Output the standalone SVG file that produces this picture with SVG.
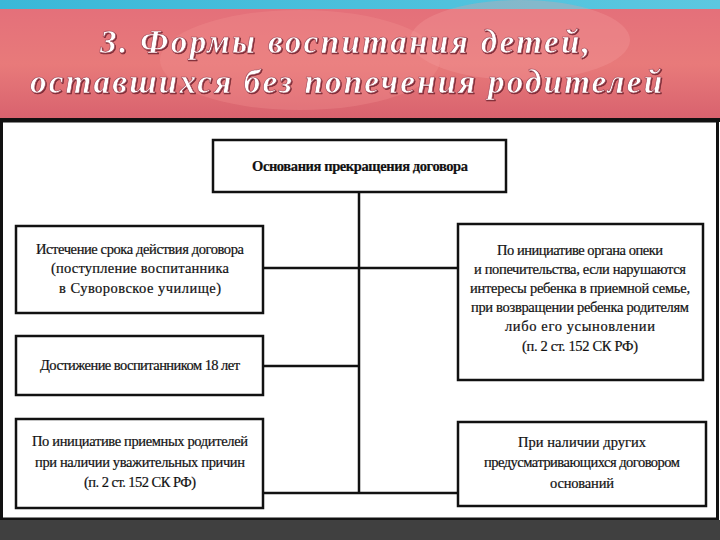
<svg xmlns="http://www.w3.org/2000/svg" width="720" height="540" viewBox="0 0 720 540">
<defs>
<linearGradient id="bg" x1="0" y1="0" x2="0" y2="1">
<stop offset="0" stop-color="#e4707a"/><stop offset="0.5" stop-color="#e87a7a"/><stop offset="1" stop-color="#d8626e"/>
</linearGradient>
<linearGradient id="top" x1="0" y1="0" x2="1" y2="0">
<stop offset="0" stop-color="#3ab8d8"/><stop offset="1" stop-color="#5cc8e0"/>
</linearGradient>
<filter id="sh"><feDropShadow dx="1" dy="1" stdDeviation="0.6" flood-color="#7a2a35"/></filter>
</defs>
<style>
.t{font-family:"Liberation Serif",serif;font-style:italic;font-weight:bold;font-size:33px;fill:#fff;stroke:#a04050;stroke-width:0.6px}
.b{fill:#fff;stroke:#111;stroke-width:2.5}
.l{font-family:"Liberation Serif",serif;font-size:14.5px;fill:#111;text-anchor:middle;stroke:#111;stroke-width:0.2px}
.c{stroke:#111;stroke-width:2.5;fill:none}
</style>
<rect width="720" height="540" fill="#fff"/>
<rect width="720" height="10" fill="url(#top)"/>
<rect y="9" width="720" height="110" fill="url(#bg)"/>
<ellipse cx="300" cy="60" rx="140" ry="50" fill="#f09090" opacity="0.35"/>
<ellipse cx="520" cy="40" rx="110" ry="40" fill="#f4a0a0" opacity="0.3"/>
<g filter="url(#sh)">
<text class="t" x="100" y="53" textLength="490" lengthAdjust="spacing">3. Формы воспитания детей,</text>
<text class="t" x="30" y="93" textLength="632" lengthAdjust="spacing">оставшихся без попечения родителей</text>
</g>
<rect x="0" y="118" width="720" height="4" fill="#111"/>
<rect x="1.5" y="121" width="716" height="398" fill="#fff" stroke="#111" stroke-width="3"/>
<rect x="0" y="520" width="720" height="20" fill="#404040"/>
<g id="connectors">
<path class="c" d="M359 192V493M263 268H458M263 366H359M263 493H458"/>
</g>
<g id="n0"><rect class="b" x="213" y="140" width="293" height="52"/><text class="l" x="360" y="171" font-weight="bold" textLength="216">Основания прекращения договора</text></g>
<g id="n1"><rect class="b" x="16" y="226" width="247" height="87"/>
<text class="l" x="140" y="254" textLength="208">Истечение срока действия договора</text>
<text class="l" x="140" y="273" textLength="178">(поступление воспитанника</text>
<text class="l" x="140" y="293" textLength="162">в Суворовское училище)</text></g>
<g id="n2"><rect class="b" x="16" y="336" width="247" height="59"/>
<text class="l" x="140" y="370" textLength="200">Достижение воспитанником 18 лет</text></g>
<g id="n3"><rect class="b" x="16" y="419" width="247" height="89"/>
<text class="l" x="140" y="446" textLength="216">По инициативе приемных родителей</text>
<text class="l" x="140" y="467" textLength="210">при наличии уважительных причин</text>
<text class="l" x="140" y="487" textLength="112">(п. 2 ст. 152 СК РФ)</text></g>
<g id="n4"><rect class="b" x="458" y="224" width="245" height="156"/>
<text class="l" x="580" y="255" textLength="166">По инициативе органа опеки</text>
<text class="l" x="580" y="274" textLength="212">и попечительства, если нарушаются</text>
<text class="l" x="580" y="293" textLength="220">интересы ребенка в приемной семье,</text>
<text class="l" x="580" y="312" textLength="218">при возвращении ребенка родителям</text>
<text class="l" x="580" y="331" textLength="150">либо его усыновлении</text>
<text class="l" x="580" y="351" textLength="116">(п. 2 ст. 152 СК РФ)</text></g>
<g id="n5"><rect class="b" x="458" y="422" width="248" height="84"/>
<text class="l" x="582" y="447" textLength="128">При наличии других</text>
<text class="l" x="582" y="467" textLength="196">предусматривающихся договором</text>
<text class="l" x="582" y="488" textLength="64">оснований</text></g>
</svg>
